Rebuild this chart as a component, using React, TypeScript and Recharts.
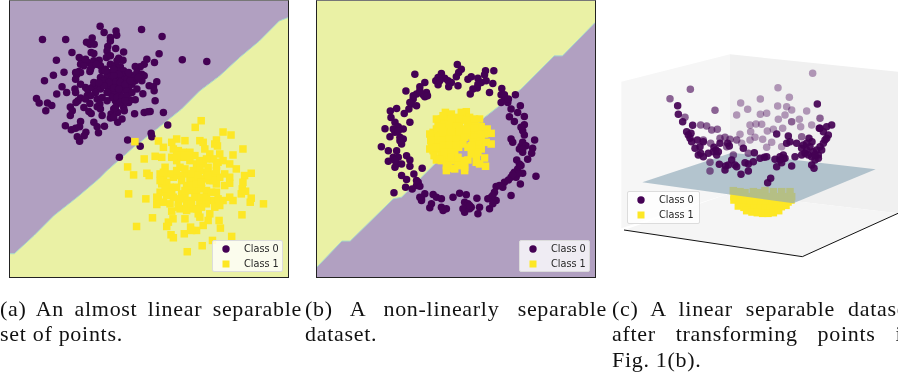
import { ComposedChart, Area, Line, Scatter, XAxis, YAxis, Legend } from "recharts";

type Pt = [number, number];

const PURPLE = "#440154";
const YELLOW = "#fde725";
const REGION_PURPLE = "#b1a0c1";
const REGION_YELLOW = "#eaf1a5";
const REGION_EDGE = "#a5d8c8";

const boundaryA: Pt[] = [[27, 760], [40, 760], [100, 705], [160, 645], [230, 590], [295, 535], [320, 510], [400, 440], [470, 385], [545, 325], [600, 270], [660, 225], [720, 170], [780, 120], [840, 60], [866, 50]];
const class0A: Pt[] = [[299,76],[311,95],[347,90],[349,103],[424,86],[486,107],[125,116],[195,116],[275,111],[258,124],[268,130],[281,130],[330,110],[330,120],[322,137],[346,143],[320,150],[214,155],[272,155],[280,158],[370,153],[477,159],[547,177],[621,182],[167,178],[236,170],[243,178],[262,185],[280,180],[296,178],[318,170],[330,165],[355,172],[368,178],[440,175],[463,185],[432,190],[420,198],[405,197],[240,190],[250,195],[190,214],[158,223],[131,240],[235,212],[228,222],[225,235],[240,215],[268,212],[270,205],[300,195],[305,210],[315,205],[330,190],[345,195],[360,198],[370,210],[375,222],[350,210],[330,215],[320,225],[300,230],[310,240],[335,235],[350,235],[365,235],[380,235],[395,225],[410,215],[425,220],[432,225],[425,240],[405,240],[395,250],[385,260],[370,265],[350,255],[335,250],[325,262],[330,275],[345,275],[360,275],[380,270],[470,243],[447,255],[460,258],[462,270],[428,279],[184,258],[198,275],[168,280],[223,265],[225,275],[255,260],[262,268],[275,260],[290,255],[300,265],[285,275],[260,285],[240,292],[232,300],[226,305],[107,293],[115,307],[140,307],[153,314],[135,330],[209,319],[215,330],[209,344],[250,320],[268,308],[265,332],[272,338],[290,295],[298,310],[290,318],[300,325],[305,344],[332,340],[345,300],[350,310],[340,325],[352,335],[370,320],[372,330],[385,305],[390,298],[405,297],[465,300],[403,339],[432,335],[443,333],[450,332],[490,335],[365,355],[352,365],[330,352],[240,362],[194,375],[212,387],[225,383],[237,378],[280,365],[290,378],[312,377],[294,396],[256,395],[251,405],[230,408],[237,422],[503,373],[453,398],[455,408],[382,418],[420,437],[357,470],[340,205],[355,220],[340,225],[345,245],[360,245],[325,245],[340,262],[355,265],[320,275],[335,290],[350,290],[365,290],[380,285],[395,275],[410,265],[375,250],[390,240],[415,230],[310,255],[280,245],[295,245],[270,285],[255,295],[305,290],[320,300],[275,195],[288,190],[255,175],[225,215],[345,320],[360,305],[375,300],[340,350],[315,210],[385,215],[240,250],[350,180]];
const class1A: Pt[] = [[604,360],[586,380],[670,394],[694,403],[404,423],[475,421],[530,415],[555,420],[515,425],[600,420],[610,425],[650,418],[645,430],[653,436],[730,445],[490,440],[465,467],[485,470],[432,475],[520,445],[535,450],[550,455],[570,455],[585,465],[615,445],[630,460],[660,460],[700,463],[640,475],[655,485],[670,480],[382,499],[400,523],[440,518],[447,525],[480,520],[490,530],[515,470],[530,480],[550,470],[570,480],[590,490],[610,490],[625,500],[650,495],[690,490],[710,505],[675,520],[755,518],[735,525],[730,545],[690,530],[660,530],[640,520],[620,515],[600,510],[580,510],[560,520],[540,525],[520,530],[500,545],[485,550],[510,560],[530,560],[545,540],[570,540],[590,535],[610,535],[630,540],[650,550],[675,555],[690,548],[728,565],[738,572],[725,580],[385,580],[437,595],[475,595],[470,612],[490,605],[510,610],[535,605],[555,590],[575,570],[590,570],[605,565],[620,570],[640,600],[655,595],[670,600],[690,590],[700,600],[755,593],[752,605],[792,610],[480,575],[500,585],[520,590],[545,580],[565,600],[585,590],[600,610],[620,610],[645,620],[660,615],[515,632],[540,625],[560,630],[580,625],[605,620],[630,640],[727,643],[457,652],[519,655],[505,665],[500,678],[555,655],[600,650],[625,660],[658,660],[409,678],[572,680],[590,690],[610,675],[662,683],[513,703],[520,712],[553,700],[696,708],[638,720],[607,736],[562,754],[575,690],[540,500],[555,505],[575,520],[595,525],[560,555],[575,555],[590,550],[555,570],[540,595],[560,610],[575,610],[605,590],[620,590],[635,575],[650,575],[530,510],[510,520],[600,480],[620,475],[640,540],[625,525],[495,565],[515,575],[535,620],[595,640],[545,465],[530,465],[565,465],[590,625],[650,510],[605,545],[495,500],[490,515],[480,540],[470,590]];

const boundaryB: Pt[] = [[35, 800], [110, 722], [135, 722], [265, 595], [290, 590], [390, 490], [540, 350], [650, 265], [750, 165], [775, 165], [873, 65]];
const class0B: Pt[] = [[458,191],[330,220],[410,218],[470,205],[462,215],[543,210],[568,210],[540,222],[400,230],[393,240],[420,232],[430,240],[400,252],[440,245],[432,258],[460,255],[455,228],[490,235],[500,228],[520,232],[530,245],[545,240],[565,248],[360,245],[345,258],[518,262],[505,265],[555,275],[497,280],[303,271],[365,275],[360,288],[335,280],[325,295],[592,263],[590,282],[600,292],[633,282],[590,305],[610,305],[648,315],[320,310],[335,315],[312,325],[298,338],[256,331],[275,323],[258,350],[620,325],[615,348],[660,347],[630,362],[315,365],[270,365],[280,378],[295,385],[240,384],[660,372],[655,390],[660,403],[255,408],[270,395],[295,415],[290,430],[620,415],[625,425],[691,418],[655,425],[650,437],[645,445],[685,443],[229,438],[250,450],[275,450],[682,458],[655,455],[305,465],[315,478],[250,482],[265,470],[275,490],[290,490],[670,476],[637,478],[315,497],[352,503],[645,490],[640,505],[270,500],[655,518],[630,515],[290,525],[327,520],[695,527],[620,530],[635,530],[305,537],[340,545],[600,545],[648,550],[335,555],[302,560],[322,565],[345,557],[595,560],[575,558],[267,577],[620,585],[360,580],[350,595],[385,582],[395,590],[410,595],[445,590],[465,578],[485,583],[517,593],[570,575],[560,590],[550,595],[575,600],[350,600],[380,610],[410,620],[425,625],[480,605],[490,610],[500,620],[480,635],[520,640],[555,625],[375,622],[415,630],[475,625],[525,620],[565,610],[355,282],[368,285],[345,270],[325,285],[315,305],[405,240],[520,250],[600,282],[612,295],[640,335],[650,380],[665,435],[655,445],[640,520],[625,522],[612,538],[585,555],[565,585],[495,625],[345,590],[335,540],[280,470],[270,480],[265,385],[285,410],[280,390],[285,420],[650,495],[495,615]];
const class1B: Pt[] = [[422,335],[485,333],[410,355],[430,355],[455,350],[475,345],[495,350],[525,355],[400,370],[420,372],[445,368],[465,365],[490,368],[510,370],[530,378],[548,385],[385,395],[405,390],[430,390],[450,385],[475,385],[500,390],[520,395],[540,400],[560,398],[380,410],[400,410],[420,408],[445,405],[465,402],[490,405],[510,410],[530,415],[380,430],[400,428],[425,425],[445,425],[465,420],[505,425],[525,430],[545,425],[560,430],[385,450],[405,445],[425,445],[445,445],[462,440],[490,440],[510,445],[530,445],[395,478],[410,465],[430,465],[450,462],[500,460],[515,465],[540,472],[430,485],[450,480],[470,480],[490,478],[515,485],[525,490],[543,497],[425,510],[445,503],[480,500],[460,495],[410,480],[388,465],[520,455],[440,340],[470,335],[395,355],[415,345],[395,385],[375,400],[378,420],[375,445],[440,355],[465,355],[485,358],[510,355],[410,380],[435,375],[455,378],[490,380],[510,382],[530,400],[415,395],[440,395],[465,395],[485,395],[410,420],[435,415],[455,415],[480,410],[395,440],[415,435],[435,435],[455,435],[475,430],[500,435],[420,455],[440,455],[405,475],[440,470],[460,470],[480,490],[425,495],[450,505],[480,510]];

const leftWall: number[][] = [[34, 125, 565], [360, 43, 460]];
const rightWall: number[][] = [[360, 43, 460], [864, 95, 520]];
const floorPane: number[][] = [[42, 570, 570], [360, 460, 617], [577, 486, 650], [864, 520, 520]];
const floorEdge: Pt[] = [[42, 570], [577, 650], [864, 520]];
const planeC: number[][] = [[97, 427, 427], [365, 338, 464], [550, 359, 490], [797, 388, 388]];
const class0Solid: Pt[] = [[622,192],[203,197],[205,223],[218,245],[248,256],[230,275],[243,280],[240,295],[245,305],[262,300],[270,320],[280,305],[272,340],[280,350],[295,340],[318,330],[312,322],[330,310],[353,310],[358,318],[400,325],[433,338],[320,345],[365,360],[355,375],[347,378],[328,373],[375,375],[380,380],[430,365],[450,355],[463,352],[470,350],[415,372],[405,368],[510,350],[520,345],[525,355],[495,358],[515,368],[500,380],[530,310],[535,288],[540,305],[560,310],[555,350],[575,345],[575,325],[597,295],[606,305],[600,320],[590,330],[585,340],[610,335],[620,330],[625,345],[635,330],[640,310],[650,295],[655,285],[630,265],[650,260],[665,255],[640,275],[615,360],[605,375],[545,378],[393,403],[415,393],[482,415],[473,428],[345,390],[612,385],[628,265],[500,282],[235,285],[255,325],[265,345],[310,335],[325,335],[595,345],[605,350],[630,320],[645,300],[625,355],[580,315],[590,310],[615,345],[520,355],[510,360]];
const class0Mid: Pt[] = [[180,176],[225,232],[315,211],[272,255],[290,258],[305,270],[322,268],[302,310],[300,367],[300,393],[345,292],[360,298],[380,300],[350,320],[415,340],[241,148],[280,300],[330,295],[370,345],[575,290],[630,235],[545,245]];
const class0Faint: Pt[] = [[608,100],[504,143],[538,172],[451,177],[392,189],[413,208],[380,225],[451,223],[470,220],[503,198],[530,200],[545,210],[590,213],[525,225],[505,238],[568,238],[572,260],[605,255],[438,252],[455,253],[420,255],[422,275],[472,273],[490,268],[518,265],[390,283],[435,292],[458,298],[485,307],[515,320],[470,322],[420,300],[395,310]];
const class1C: Pt[] = [[370,452],[390,455],[405,458],[430,455],[445,458],[465,452],[490,455],[515,455],[540,455],[372,470],[388,472],[404,470],[420,470],[436,472],[452,470],[468,470],[484,470],[500,470],[516,472],[532,470],[545,470],[372,480],[390,486],[406,486],[422,486],[438,488],[454,488],[470,488],[486,488],[502,488],[518,488],[534,486],[543,480],[385,498],[402,502],[418,504],[434,504],[450,504],[466,504],[482,504],[498,504],[514,500],[528,496],[410,512],[426,516],[442,518],[458,520],[474,520],[490,518],[506,512]];

const xy = (pts: Pt[]) => pts.map(([x, y]) => ({ x, y }));
const band = (rows: number[][]) => rows.map(([x, a, b]) => ({ x, range: [a, b] }));

function Dot({ cx, cy, fill, fillOpacity }: any) {
  return <circle cx={cx} cy={cy} r={3.75} fill={fill} fillOpacity={fillOpacity} />;
}

function Square({ cx, cy, fill }: any) {
  return <rect x={cx - 3.75} y={cy - 3.75} width={7.5} height={7.5} fill={fill} />;
}

function LegendBox({ bg, width, height }: { bg: string; width: number; height: number }) {
  const row = { display: "flex", alignItems: "center", height: 15 };
  return (
    <div style={{ width, height, boxSizing: "border-box", background: bg, border: "1px solid #dcdcdc", borderRadius: 2, fontFamily: "DejaVu Sans", fontSize: 9.7, color: "#262626" }}>
      <div style={row}>
        <svg width={31} height={15}><circle cx={13} cy={8} r={3.7} fill={PURPLE} /></svg>
        <span>Class 0</span>
      </div>
      <div style={row}>
        <svg width={31} height={15}><rect x={9.5} y={4.5} width={7} height={7} fill={YELLOW} /></svg>
        <span>Class 1</span>
      </div>
    </div>
  );
}

function RegionPanel({ left, domainX, boundary, above, below, class0, class1 }: any) {
  const rows = boundary.map(([x, y]: Pt) => ({ x, y, top: [0, y], bottom: [y, 830] }));
  const width = 280;
  return (
    <div style={{ position: "absolute", left, top: 0, width, height: 278, borderRight: "1px solid #222", borderLeft: "1px solid #222", borderBottom: "1px solid #222", borderTop: "1px solid #777", boxSizing: "border-box" }}>
      <ComposedChart width={width - 2} height={276} data={rows} margin={{ top: 0, right: 0, bottom: 0, left: 0 }}>
        <XAxis hide type="number" dataKey="x" domain={domainX} allowDataOverflow />
        <YAxis hide type="number" dataKey="y" domain={[0, 830]} reversed allowDataOverflow />
        <Area dataKey="top" type="linear" stroke="none" fill={above} fillOpacity={1} isAnimationActive={false} />
        <Area dataKey="bottom" type="linear" stroke="none" fill={below} fillOpacity={1} isAnimationActive={false} />
        <Line dataKey="y" type="linear" stroke={REGION_EDGE} strokeWidth={1} dot={false} isAnimationActive={false} />
        <Scatter data={xy(class0)} fill={PURPLE} shape={<Dot />} isAnimationActive={false} />
        <Scatter data={xy(class1)} fill={YELLOW} shape={<Square />} isAnimationActive={false} />
        <Legend layout="vertical" align="center" verticalAlign="middle" wrapperStyle={{ left: 202, top: 239, width: 71, height: 32 }} content={() => <LegendBox bg="rgba(255,255,255,0.8)" width={71} height={32} />} />
      </ComposedChart>
    </div>
  );
}

function DepthPanel() {
  return (
    <div style={{ position: "absolute", left: 610, top: 40, width: 288, height: 230 }}>
      <ComposedChart width={288} height={230} margin={{ top: 0, right: 0, bottom: 0, left: 0 }}>
        <XAxis hide type="number" dataKey="x" domain={[0, 864]} allowDataOverflow />
        <YAxis hide type="number" dataKey="y" domain={[0, 690]} reversed allowDataOverflow />
        <Area data={band(leftWall)} dataKey="range" type="linear" stroke="none" fill="#f6f6f6" fillOpacity={1} isAnimationActive={false} zIndex={10} />
        <Area data={band(rightWall)} dataKey="range" type="linear" stroke="none" fill="#f0f0f0" fillOpacity={1} isAnimationActive={false} zIndex={11} />
        <Area data={band(floorPane)} dataKey="range" type="linear" stroke="none" fill="#f5f5f5" fillOpacity={1} isAnimationActive={false} zIndex={12} />
        <Line data={xy(floorEdge)} dataKey="y" type="linear" stroke="#111" strokeWidth={1} dot={false} isAnimationActive={false} zIndex={13} />
        <Scatter data={xy(class1C)} fill={YELLOW} shape={<Square />} isAnimationActive={false} zIndex={14} />
        <Area data={band(planeC)} dataKey="range" type="linear" stroke="none" fill="#8fa9b8" fillOpacity={0.65} isAnimationActive={false} zIndex={15} />
        <Scatter data={xy(class0Faint)} fill={PURPLE} fillOpacity={0.38} shape={<Dot />} isAnimationActive={false} zIndex={16} />
        <Scatter data={xy(class0Mid)} fill={PURPLE} fillOpacity={0.6} shape={<Dot />} isAnimationActive={false} zIndex={17} />
        <Scatter data={xy(class0Solid)} fill={PURPLE} fillOpacity={0.92} shape={<Dot />} isAnimationActive={false} zIndex={18} />
        <Legend layout="vertical" align="center" verticalAlign="middle" wrapperStyle={{ left: 17, top: 151, width: 73, height: 33 }} content={() => <LegendBox bg="rgba(255,255,255,0.8)" width={73} height={33} />} />
      </ComposedChart>
    </div>
  );
}

const captions = [
  { left: 0, top: 296, text: "(a) An almost linear separable", justify: true },
  { left: 0, top: 321, text: "set of points.", justify: false },
  { left: 305, top: 296, text: "(b) A non-linearly separable", justify: true },
  { left: 305, top: 321, text: "dataset.", justify: false },
  { left: 612, top: 296, text: "(c) A linear separable dataset", justify: true },
  { left: 612, top: 321, text: "after transforming points in", justify: true },
  { left: 612, top: 347, text: "Fig. 1(b).", justify: false },
];

export default function App() {
  return (
    <div style={{ position: "absolute", left: 0, top: 0, width: 898, height: 378, overflow: "hidden", background: "#fff", filter: "blur(0.4px)" }}>
      <RegionPanel left={9} domainX={[27, 866]} boundary={boundaryA} above={REGION_PURPLE} below={REGION_YELLOW} class0={class0A} class1={class1A} />
      <RegionPanel left={316} domainX={[35, 873]} boundary={boundaryB} above={REGION_YELLOW} below={REGION_PURPLE} class0={class0B} class1={class1B} />
      <DepthPanel />
      {captions.map((c) => (
        <div key={c.text} style={{ position: "absolute", left: c.left, top: c.top, width: 302, fontFamily: "Liberation Serif", fontSize: 22, lineHeight: "25px", letterSpacing: 0.7, color: "#111", whiteSpace: "nowrap", textAlign: c.justify ? "justify" : "left", textAlignLast: c.justify ? "justify" : "left" }}>
          {c.text}
        </div>
      ))}
    </div>
  );
}
